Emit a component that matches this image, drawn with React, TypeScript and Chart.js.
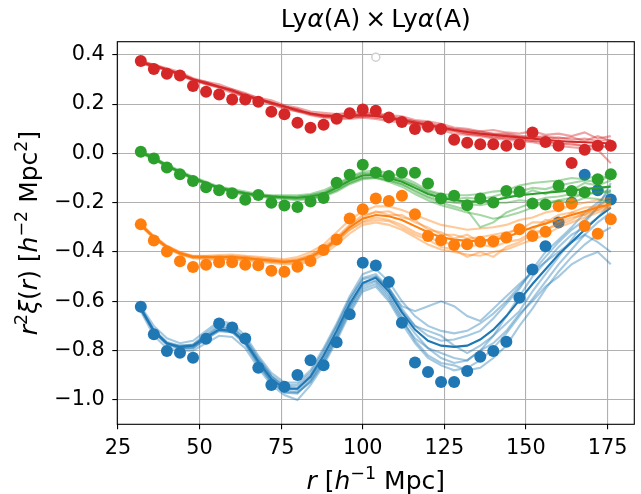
import React, { useEffect, useRef } from "react";
import { Chart, registerables } from "chart.js";

Chart.register(...registerables);

// separation r [h^-1 Mpc]
const R = [32, 36, 40, 44, 48, 52, 56, 60, 64, 68, 72, 76, 80, 84, 88, 92, 96, 100, 104, 108, 112, 116, 120, 124, 128, 132, 136, 140, 144, 148, 152, 156, 160, 164, 168, 172, 176];

const X_TICKS = [25, 50, 75, 100, 125, 150, 175];
const Y_TICKS = [-1.0, -0.8, -0.6, -0.4, -0.2, 0.0, 0.2, 0.4];

// measured points
const dotsRed = [0.375, 0.342, 0.323, 0.316, 0.273, 0.25, 0.239, 0.219, 0.219, 0.209, 0.169, 0.159, 0.124, 0.104, 0.116, 0.14, 0.163, 0.178, 0.173, 0.146, 0.127, 0.099, 0.108, 0.099, 0.055, 0.043, 0.037, 0.037, 0.031, 0.037, 0.085, 0.046, 0.031, -0.039, 0.015, 0.031, 0.031];
const dotsGreen = [0.007, -0.021, -0.057, -0.085, -0.112, -0.137, -0.15, -0.162, -0.188, -0.169, -0.2, -0.211, -0.218, -0.195, -0.181, -0.119, -0.087, -0.046, -0.078, -0.092, -0.079, -0.079, -0.122, -0.183, -0.172, -0.21, -0.183, -0.199, -0.153, -0.156, -0.203, -0.207, -0.131, -0.153, -0.158, -0.105, -0.085];
const dotsOrange = [-0.288, -0.353, -0.398, -0.438, -0.461, -0.452, -0.442, -0.442, -0.452, -0.454, -0.476, -0.48, -0.46, -0.437, -0.392, -0.349, -0.264, -0.227, -0.183, -0.193, -0.172, -0.247, -0.335, -0.352, -0.372, -0.369, -0.359, -0.356, -0.341, -0.308, -0.335, -0.318, -0.214, -0.204, -0.295, -0.326, -0.267];
const dotsBlue = [-0.622, -0.734, -0.802, -0.809, -0.829, -0.752, -0.69, -0.706, -0.751, -0.87, -0.94, -0.947, -0.899, -0.839, -0.859, -0.766, -0.653, -0.444, -0.455, -0.522, -0.687, -0.848, -0.887, -0.927, -0.927, -0.883, -0.825, -0.802, -0.764, -0.586, -0.471, -0.377, -0.28, -0.2, -0.087, -0.15, -0.187];

// model lines
const modelRed = [0.37, 0.355, 0.34, 0.32, 0.3, 0.285, 0.27, 0.255, 0.235, 0.22, 0.205, 0.19, 0.175, 0.162, 0.153, 0.15, 0.152, 0.155, 0.152, 0.145, 0.135, 0.125, 0.115, 0.105, 0.095, 0.087, 0.08, 0.075, 0.07, 0.065, 0.06, 0.055, 0.05, 0.047, 0.045, 0.043, 0.04];
const modelGreen = [0.005, -0.02, -0.05, -0.075, -0.1, -0.12, -0.14, -0.152, -0.162, -0.17, -0.175, -0.178, -0.18, -0.175, -0.165, -0.14, -0.11, -0.09, -0.088, -0.1, -0.115, -0.14, -0.165, -0.18, -0.19, -0.195, -0.195, -0.19, -0.18, -0.17, -0.165, -0.16, -0.155, -0.15, -0.145, -0.14, -0.135];
const modelOrange = [-0.29, -0.34, -0.38, -0.405, -0.42, -0.42, -0.42, -0.42, -0.425, -0.43, -0.435, -0.44, -0.435, -0.42, -0.39, -0.35, -0.3, -0.265, -0.25, -0.255, -0.27, -0.295, -0.32, -0.34, -0.35, -0.355, -0.355, -0.35, -0.34, -0.32, -0.3, -0.285, -0.265, -0.25, -0.235, -0.22, -0.205];
const modelBlue = [-0.63, -0.72, -0.77, -0.785, -0.78, -0.745, -0.715, -0.72, -0.765, -0.845, -0.915, -0.955, -0.955, -0.905, -0.82, -0.72, -0.61, -0.525, -0.505, -0.56, -0.645, -0.715, -0.76, -0.78, -0.785, -0.78, -0.755, -0.715, -0.66, -0.595, -0.53, -0.47, -0.41, -0.36, -0.31, -0.26, -0.22];

// mock realisations
const mocksRed = [
  [0.375, 0.36, 0.345, 0.33, 0.305, 0.29, 0.28, 0.26, 0.245, 0.225, 0.215, 0.195, 0.185, 0.17, 0.165, 0.16, 0.165, 0.17, 0.16, 0.155, 0.15, 0.135, 0.13, 0.12, 0.105, 0.1, 0.09, 0.095, 0.085, 0.08, 0.09, 0.075, 0.08, 0.07, 0.085, 0.06, 0.07],
  [0.365, 0.35, 0.335, 0.315, 0.295, 0.28, 0.265, 0.245, 0.23, 0.21, 0.2, 0.18, 0.17, 0.155, 0.145, 0.14, 0.14, 0.145, 0.14, 0.13, 0.125, 0.115, 0.1, 0.095, 0.08, 0.075, 0.07, 0.06, 0.055, 0.05, 0.045, 0.035, 0.03, 0.025, 0.02, 0.015, -0.04],
  [0.37, 0.36, 0.34, 0.325, 0.3, 0.29, 0.27, 0.26, 0.24, 0.225, 0.205, 0.19, 0.18, 0.16, 0.155, 0.155, 0.16, 0.16, 0.165, 0.15, 0.14, 0.13, 0.125, 0.11, 0.1, 0.095, 0.085, 0.08, 0.08, 0.07, 0.065, 0.07, 0.06, 0.065, 0.05, 0.07, 0.05],
  [0.37, 0.35, 0.34, 0.32, 0.3, 0.28, 0.27, 0.25, 0.23, 0.22, 0.2, 0.185, 0.17, 0.165, 0.15, 0.145, 0.145, 0.15, 0.145, 0.14, 0.13, 0.12, 0.11, 0.1, 0.09, 0.08, 0.075, 0.065, 0.065, 0.055, 0.05, 0.045, 0.04, 0.035, 0.03, 0.035, 0.02],
  [0.372, 0.357, 0.338, 0.322, 0.303, 0.283, 0.272, 0.252, 0.238, 0.218, 0.208, 0.188, 0.178, 0.16, 0.158, 0.148, 0.155, 0.16, 0.15, 0.148, 0.138, 0.13, 0.118, 0.11, 0.098, 0.09, 0.09, 0.078, 0.075, 0.068, 0.07, 0.06, 0.065, 0.055, 0.06, 0.05, 0.055],
  [0.368, 0.353, 0.342, 0.318, 0.298, 0.287, 0.268, 0.257, 0.232, 0.222, 0.202, 0.192, 0.172, 0.158, 0.148, 0.152, 0.148, 0.15, 0.155, 0.142, 0.13, 0.12, 0.112, 0.1, 0.092, 0.08, 0.075, 0.07, 0.06, 0.06, 0.05, 0.05, 0.04, 0.04, 0.03, 0.025, 0.03],
];
const mocksGreen = [
  [0.01, -0.015, -0.045, -0.07, -0.095, -0.115, -0.135, -0.145, -0.155, -0.165, -0.17, -0.17, -0.17, -0.165, -0.15, -0.125, -0.095, -0.075, -0.07, -0.08, -0.095, -0.12, -0.15, -0.165, -0.17, -0.17, -0.165, -0.155, -0.15, -0.13, -0.12, -0.115, -0.11, -0.1, -0.105, -0.09, -0.1],
  [0.0, -0.025, -0.055, -0.08, -0.105, -0.125, -0.145, -0.158, -0.17, -0.175, -0.182, -0.185, -0.19, -0.185, -0.175, -0.155, -0.125, -0.105, -0.1, -0.115, -0.135, -0.165, -0.19, -0.21, -0.225, -0.24, -0.25, -0.265, -0.255, -0.24, -0.22, -0.2, -0.19, -0.18, -0.165, -0.16, -0.15],
  [0.005, -0.018, -0.048, -0.078, -0.098, -0.122, -0.138, -0.15, -0.165, -0.168, -0.178, -0.175, -0.178, -0.17, -0.16, -0.13, -0.1, -0.08, -0.085, -0.095, -0.105, -0.13, -0.16, -0.18, -0.185, -0.2, -0.19, -0.2, -0.17, -0.175, -0.15, -0.165, -0.14, -0.15, -0.12, -0.13, -0.11],
  [0.005, -0.022, -0.052, -0.072, -0.102, -0.118, -0.142, -0.155, -0.16, -0.172, -0.172, -0.18, -0.182, -0.18, -0.17, -0.15, -0.12, -0.1, -0.095, -0.11, -0.125, -0.15, -0.175, -0.19, -0.2, -0.205, -0.21, -0.2, -0.2, -0.19, -0.195, -0.18, -0.175, -0.165, -0.17, -0.155, -0.16],
  [0.008, -0.017, -0.05, -0.076, -0.1, -0.12, -0.138, -0.15, -0.16, -0.168, -0.173, -0.176, -0.175, -0.17, -0.158, -0.135, -0.105, -0.085, -0.08, -0.09, -0.11, -0.13, -0.155, -0.17, -0.185, -0.18, -0.185, -0.175, -0.16, -0.155, -0.14, -0.145, -0.13, -0.12, -0.11, -0.115, -0.09],
  [0.002, -0.023, -0.053, -0.078, -0.103, -0.123, -0.143, -0.155, -0.166, -0.172, -0.18, -0.182, -0.186, -0.182, -0.172, -0.148, -0.118, -0.098, -0.1, -0.108, -0.125, -0.155, -0.18, -0.2, -0.215, -0.23, -0.3, -0.28, -0.24, -0.22, -0.2, -0.21, -0.19, -0.2, -0.18, -0.185, -0.2],
];
const mocksOrange = [
  [-0.285, -0.335, -0.375, -0.4, -0.415, -0.415, -0.412, -0.41, -0.415, -0.42, -0.425, -0.43, -0.42, -0.4, -0.37, -0.32, -0.27, -0.235, -0.215, -0.215, -0.23, -0.25, -0.27, -0.29, -0.3, -0.31, -0.305, -0.3, -0.29, -0.27, -0.26, -0.24, -0.23, -0.21, -0.2, -0.19, -0.18],
  [-0.295, -0.345, -0.385, -0.41, -0.425, -0.43, -0.43, -0.43, -0.435, -0.44, -0.445, -0.45, -0.45, -0.44, -0.41, -0.37, -0.325, -0.29, -0.28, -0.29, -0.31, -0.34, -0.37, -0.39, -0.4, -0.41, -0.415, -0.4, -0.39, -0.37, -0.35, -0.33, -0.3, -0.28, -0.26, -0.24, -0.22],
  [-0.29, -0.338, -0.378, -0.402, -0.418, -0.425, -0.418, -0.425, -0.42, -0.432, -0.43, -0.442, -0.43, -0.415, -0.38, -0.34, -0.29, -0.25, -0.24, -0.235, -0.26, -0.27, -0.31, -0.32, -0.345, -0.33, -0.36, -0.34, -0.33, -0.3, -0.31, -0.27, -0.28, -0.24, -0.25, -0.21, -0.22],
  [-0.292, -0.342, -0.382, -0.408, -0.422, -0.418, -0.425, -0.418, -0.43, -0.428, -0.44, -0.438, -0.44, -0.425, -0.395, -0.36, -0.31, -0.275, -0.26, -0.27, -0.29, -0.32, -0.34, -0.36, -0.37, -0.38, -0.37, -0.38, -0.36, -0.35, -0.32, -0.31, -0.29, -0.27, -0.24, -0.23, -0.2],
  [-0.288, -0.337, -0.377, -0.403, -0.417, -0.42, -0.42, -0.415, -0.42, -0.425, -0.432, -0.435, -0.43, -0.41, -0.385, -0.345, -0.295, -0.26, -0.235, -0.25, -0.25, -0.28, -0.3, -0.33, -0.33, -0.345, -0.34, -0.33, -0.32, -0.31, -0.28, -0.28, -0.25, -0.24, -0.22, -0.215, -0.19],
  [-0.293, -0.343, -0.383, -0.407, -0.423, -0.425, -0.428, -0.428, -0.43, -0.435, -0.44, -0.445, -0.445, -0.43, -0.4, -0.355, -0.31, -0.28, -0.27, -0.275, -0.3, -0.33, -0.35, -0.38, -0.39, -0.42, -0.4, -0.42, -0.38, -0.36, -0.33, -0.31, -0.28, -0.26, -0.25, -0.23, -0.215],
];
const mocksBlue = [
  [-0.62, -0.7, -0.75, -0.77, -0.76, -0.72, -0.68, -0.69, -0.74, -0.82, -0.89, -0.93, -0.93, -0.88, -0.79, -0.69, -0.58, -0.49, -0.47, -0.52, -0.6, -0.66, -0.7, -0.72, -0.73, -0.72, -0.69, -0.65, -0.6, -0.54, -0.48, -0.42, -0.36, -0.31, -0.27, -0.22, -0.17],
  [-0.64, -0.74, -0.79, -0.8, -0.8, -0.77, -0.74, -0.745, -0.79, -0.87, -0.94, -0.98, -1.0, -0.94, -0.86, -0.76, -0.65, -0.56, -0.54, -0.6, -0.69, -0.77, -0.83, -0.86, -0.88, -0.87, -0.84, -0.79, -0.73, -0.66, -0.59, -0.52, -0.45, -0.39, -0.33, -0.28, -0.24],
  [-0.625, -0.715, -0.765, -0.78, -0.775, -0.73, -0.69, -0.7, -0.755, -0.835, -0.905, -0.95, -0.96, -0.91, -0.83, -0.73, -0.62, -0.53, -0.5, -0.55, -0.62, -0.64, -0.62, -0.6, -0.62, -0.66, -0.68, -0.63, -0.58, -0.53, -0.48, -0.44, -0.38, -0.33, -0.3, -0.26, -0.2],
  [-0.635, -0.725, -0.775, -0.79, -0.79, -0.755, -0.72, -0.725, -0.775, -0.86, -0.93, -0.97, -0.97, -0.925, -0.845, -0.745, -0.63, -0.54, -0.52, -0.58, -0.67, -0.76, -0.82, -0.85, -0.86, -0.88, -0.87, -0.83, -0.78, -0.7, -0.63, -0.55, -0.48, -0.42, -0.37, -0.33, -0.3],
  [-0.63, -0.72, -0.77, -0.78, -0.78, -0.74, -0.705, -0.715, -0.76, -0.84, -0.905, -0.945, -0.95, -0.9, -0.81, -0.705, -0.595, -0.505, -0.49, -0.545, -0.63, -0.7, -0.74, -0.76, -0.755, -0.74, -0.72, -0.67, -0.61, -0.55, -0.47, -0.4, -0.35, -0.3, -0.24, -0.2, -0.15],
  [-0.628, -0.718, -0.768, -0.79, -0.785, -0.75, -0.72, -0.725, -0.77, -0.85, -0.925, -0.96, -0.97, -0.93, -0.85, -0.75, -0.64, -0.55, -0.53, -0.59, -0.68, -0.75, -0.79, -0.81, -0.83, -0.84, -0.8, -0.77, -0.72, -0.65, -0.6, -0.54, -0.5, -0.45, -0.42, -0.4, -0.45],
  [-0.632, -0.722, -0.772, -0.785, -0.775, -0.74, -0.7, -0.71, -0.75, -0.83, -0.9, -0.94, -0.94, -0.89, -0.8, -0.7, -0.59, -0.51, -0.5, -0.55, -0.64, -0.7, -0.72, -0.74, -0.78, -0.81, -0.78, -0.74, -0.69, -0.64, -0.56, -0.49, -0.42, -0.35, -0.28, -0.22, -0.12],
  [-0.626, -0.726, -0.776, -0.792, -0.79, -0.752, -0.712, -0.718, -0.77, -0.855, -0.925, -0.97, -0.975, -0.92, -0.835, -0.735, -0.62, -0.53, -0.515, -0.57, -0.66, -0.73, -0.79, -0.83, -0.85, -0.84, -0.8, -0.74, -0.66, -0.58, -0.5, -0.44, -0.4, -0.36, -0.33, -0.36, -0.4],
];

// stray hollow marker
const strayX = [104];
const strayY = [0.39];

const FONT = "'DejaVu Sans', 'Liberation Sans', sans-serif";
const TICK_FS = 20.8;
const LABEL_FS = 25;

type Seg = { t: string; it?: boolean; sup?: boolean; gap?: number };

function segFont(s: Seg) {
  const size = s.sup ? LABEL_FS * 0.7 : LABEL_FS;
  return `${s.it ? "italic " : ""}${size}px ${FONT}`;
}

function drawRich(ctx: CanvasRenderingContext2D, segs: Seg[], cx: number, baseline: number) {
  let total = 0;
  const widths: number[] = [];
  for (const s of segs) {
    ctx.font = segFont(s);
    const w = s.gap !== undefined ? s.gap : ctx.measureText(s.t).width;
    widths.push(w);
    total += w;
  }
  let x = cx - total / 2;
  ctx.textAlign = "left";
  ctx.textBaseline = "alphabetic";
  ctx.fillStyle = "#000";
  segs.forEach((s, i) => {
    if (s.gap === undefined) {
      ctx.font = segFont(s);
      ctx.fillText(s.t, x, s.sup ? baseline - LABEL_FS * 0.42 : baseline);
    }
    x += widths[i];
  });
}

const TITLE: Seg[] = [{ t: "Ly" }, { t: "α", it: true }, { t: "(A)" }, { t: "", gap: 5 }, { t: "×" }, { t: "", gap: 5 }, { t: "Ly" }, { t: "α", it: true }, { t: "(A)" }];
const XLABEL: Seg[] = [{ t: "r", it: true }, { t: " [" }, { t: "h", it: true }, { t: "−1", sup: true }, { t: " Mpc]" }];
const YLABEL: Seg[] = [{ t: "r", it: true }, { t: "2", sup: true }, { t: "ξ", it: true }, { t: "(" }, { t: "r", it: true }, { t: ")" }, { t: " [" }, { t: "h", it: true }, { t: "−2", sup: true }, { t: " Mpc" }, { t: "2", sup: true }, { t: "]" }];

const pts = (ys: number[]) => R.map((x, i) => ({ x, y: ys[i] }));

export default function App() {
  const ref = useRef<HTMLCanvasElement | null>(null);

  useEffect(() => {
    if (!ref.current) return;
    const groups = [
      { c: "#1f77b4", a: "rgba(31,119,180,0.4)", dots: dotsBlue, model: modelBlue, mocks: mocksBlue },
      { c: "#ff7f0e", a: "rgba(255,127,14,0.42)", dots: dotsOrange, model: modelOrange, mocks: mocksOrange },
      { c: "#2ca02c", a: "rgba(44,160,44,0.42)", dots: dotsGreen, model: modelGreen, mocks: mocksGreen },
      { c: "#d62728", a: "rgba(214,39,40,0.42)", dots: dotsRed, model: modelRed, mocks: mocksRed },
    ];
    const datasets: any[] = [];
    let k = 0;
    const push = (d: any) => {
      datasets.push({ ...d, order: 1000 - k });
      k++;
    };
    for (const g of groups) {
      for (const m of g.mocks) {
        push({ data: pts(m), borderColor: g.a, borderWidth: 2.1, pointRadius: 0, fill: false, tension: 0 });
      }
      push({ data: pts(g.model), borderColor: g.c, borderWidth: 2.1, pointRadius: 0, fill: false, tension: 0 });
      push({ data: pts(g.dots), showLine: false, pointRadius: 6, pointBackgroundColor: g.c, pointBorderWidth: 0, pointBorderColor: g.c });
    }
    push({
      data: strayX.map((x, i) => ({ x, y: strayY[i] })),
      showLine: false,
      pointRadius: 4,
      pointBackgroundColor: "#ffffff",
      pointBorderColor: "#cfcfcf",
      pointBorderWidth: 1.5,
    });

    const textPlugin = {
      id: "texts",
      afterDraw(chart: any) {
        const ctx = chart.ctx as CanvasRenderingContext2D;
        const a = chart.chartArea;
        ctx.save();
        ctx.strokeStyle = "#000";
        ctx.lineWidth = 1.1;
        ctx.strokeRect(a.left, a.top, a.right - a.left, a.bottom - a.top);
        const cx = (a.left + a.right) / 2;
        drawRich(ctx, TITLE, cx, 27);
        drawRich(ctx, XLABEL, cx, 489);
        ctx.translate(37, (a.top + a.bottom) / 2);
        ctx.rotate(-Math.PI / 2);
        drawRich(ctx, YLABEL, 0, 0);
        ctx.restore();
      },
    };

    const tickFont = { family: FONT, size: TICK_FS };
    const chart = new Chart(ref.current, {
      type: "line",
      data: { datasets },
      options: {
        responsive: false,
        animation: false,
        devicePixelRatio: 1,
        events: [],
        layout: { padding: { left: 0, right: 6.7, top: 41.7, bottom: 0 } },
        plugins: { legend: { display: false }, tooltip: { enabled: false }, title: { display: false } },
        scales: {
          x: {
            type: "linear",
            min: 24.8,
            max: 183.2,
            afterFit: (s: any) => {
              s.height = 69.7;
            },
            afterBuildTicks: (s: any) => {
              s.ticks = X_TICKS.map((v) => ({ value: v }));
            },
            ticks: { font: tickFont, color: "#000", padding: 7, maxRotation: 0, autoSkip: false, callback: (v: any) => String(v) },
            grid: { color: "#b0b0b0", lineWidth: 1.1, tickLength: 5, tickColor: "#000", tickWidth: 1.1 },
            border: { display: false },
          },
          y: {
            type: "linear",
            min: -1.099,
            max: 0.453,
            afterFit: (s: any) => {
              s.width = 117.3;
            },
            afterBuildTicks: (s: any) => {
              s.ticks = Y_TICKS.map((v) => ({ value: v }));
            },
            ticks: {
              font: tickFont,
              color: "#000",
              padding: 7.5,
              autoSkip: false,
              callback: (v: any) => (v < -1e-9 ? "−" : "") + Math.abs(Number(v)).toFixed(1),
            },
            grid: { color: "#b0b0b0", lineWidth: 1.1, tickLength: 5, tickColor: "#000", tickWidth: 1.1 },
            border: { display: false },
          },
        },
      },
      plugins: [textPlugin],
    });
    return () => chart.destroy();
  }, []);

  return (
    <div style={{ position: "absolute", left: 0, top: 0, width: 641, height: 494, background: "#fff" }}>
      <canvas ref={ref} width={641} height={494} />
    </div>
  );
}
